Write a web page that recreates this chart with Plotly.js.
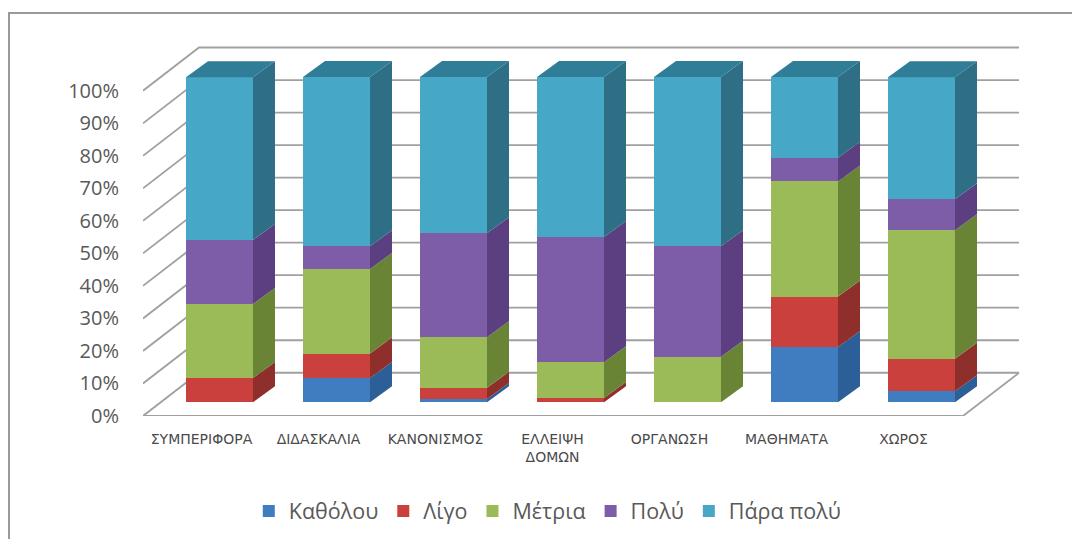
<!DOCTYPE html>
<html>
<head>
<meta charset="utf-8">
<script src="https://cdn.plot.ly/plotly-3.0.1.min.js"></script>
<style>html,body{margin:0;padding:0;background:#fff;}#chart{width:1072px;height:539px;}</style>
</head>
<body>
<div id="chart"></div>
<script>
// ---- data ----
const categories = ['ΣΥΜΠΕΡΙΦΟΡΑ','ΔΙΔΑΣΚΑΛΙΑ','ΚΑΝΟΝΙΣΜΟΣ','ΕΛΛΕΙΨΗ<br>ΔΟΜΩΝ','ΟΡΓΑΝΩΣΗ','ΜΑΘΗΜΑΤΑ','ΧΩΡΟΣ'];
const percentTicks = [0,10,20,30,40,50,60,70,80,90,100];
const percentLabels = ['0%','10%','20%','30%','40%','50%','60%','70%','80%','90%','100%'];
const seriesNames = ['Καθόλου','Λίγο','Μέτρια','Πολύ','Πάρα πολύ'];
const katholou  = [0,   7.5, 1,    0,    0,  17,   3.4];
const ligo      = [7.5, 7.5, 3.5,  1.3,  0,  15.5, 10];
const metria    = [22.7,26,  15.5, 11,   14, 35.4, 39.5];
const poly      = [19.7,7,   32,   38.5, 34, 7.3,  9.5];
const paraPoly  = [50,  52,  48,   49.2, 52, 24.8, 37.5];
const frontColors = ['#3F7DC0','#C9403C','#9BBB59','#7E5DA8','#46A8C6'];
const sideColors  = ['#2C5F97','#8F2F2C','#6A8436','#5B3F80','#2E6F86'];
const topColor = '#2F7D97';

// ---- geometry (axis units) ----
const series = [katholou, ligo, metria, poly, paraPoly];
const idx = categories.map((_, i) => i);
const barW = 67/117, barDX = 22/117, barDY = 16/3.25;
const wallDX = 56/117, wallDY = 43.2/3.25;
const wallL = -0.5, wallR = (963-201.5)/117;

const traces = [];

// walls and floor on the lower subplot (x, y)
const gridX = [], gridY = [];
percentTicks.forEach(t => {
  gridX.push(wallL, wallL+wallDX, wallR+wallDX, null);
  gridY.push(t, t+wallDY, t+wallDY, null);
});
gridX.push(wallL, wallR, wallR+wallDX, null);
gridY.push(0, 0, wallDY, null);
traces.push({type:'scatter', mode:'lines', x:gridX, y:gridY, xaxis:'x', yaxis:'y', showlegend:false,
  hoverinfo:'skip', connectgaps:false, line:{color:'#A0A0A0', width:1.8}});

// front faces: real stacked bars on the upper subplot
series.forEach((vals, s) => {
  traces.push({type:'bar', name:seriesNames[s], x:idx, y:vals, xaxis:'x2', yaxis:'y2', width:barW,
    marker:{color:frontColors[s], line:{width:0}}});
});

// side faces computed from the stacked values
const running = idx.map(() => 0);
series.forEach((vals, s) => {
  const px = [], py = [];
  vals.forEach((v, i) => {
    const b = running[i], t = b + v, r = i + barW/2;
    if (v > 0) {
      px.push(r, r+barDX, r+barDX, r, r, null);
      py.push(b, b+barDY, t+barDY, t, b, null);
    }
    running[i] = t;
  });
  traces.push({type:'scatter', mode:'lines', x:px, y:py, xaxis:'x2', yaxis:'y2', showlegend:false,
    hoverinfo:'skip', fill:'toself', fillcolor:sideColors[s], line:{width:0, color:sideColors[s]}});
});

// top faces
const tx = [], ty = [];
idx.forEach(i => {
  const l = i-barW/2, r = i+barW/2, t = running[i];
  tx.push(l, l+barDX, r+barDX, r, l, null);
  ty.push(t, t+barDY, t+barDY, t, t, null);
});
traces.push({type:'scatter', mode:'lines', x:tx, y:ty, xaxis:'x2', yaxis:'y2', showlegend:false,
  hoverinfo:'skip', fill:'toself', fillcolor:topColor, line:{width:0, color:topColor}});

const layout = {
  width:1072, height:539,
  margin:{l:143, r:50, t:40, b:123.3, pad:0},
  paper_bgcolor:'#fff', plot_bgcolor:'rgba(0,0,0,0)',
  barmode:'stack', showlegend:true,
  font:{family:'"Open Sans", sans-serif', color:'#595959'},
  xaxis:{type:'linear', range:[-0.5, 7.013], tickvals:idx, ticktext:categories, showgrid:false, zeroline:false,
    showline:false, ticks:'outside', ticklen:10, tickcolor:'rgba(0,0,0,0)',
    tickfont:{family:'"DejaVu Sans", sans-serif', size:14, color:'#4a4a4a'}, fixedrange:true},
  yaxis:{type:'linear', range:[0, 115.6], tickvals:percentTicks, ticktext:percentLabels, showgrid:false, zeroline:false,
    showline:false, ticks:'outside', ticklen:19, tickcolor:'rgba(0,0,0,0)',
    tickfont:{family:'"Open Sans", sans-serif', size:20, color:'#595959'}, fixedrange:true},
  xaxis2:{type:'linear', overlaying:'x', range:[-0.6538, 6.859], visible:false, anchor:'y2', fixedrange:true},
  yaxis2:{type:'linear', overlaying:'y', range:[-4.215, 111.385], visible:false, anchor:'x2', fixedrange:true},
  legend:{orientation:'h', xref:'container', yref:'container', x:0.511, y:0.052, xanchor:'center', yanchor:'middle',
    traceorder:'normal', font:{family:'"Open Sans", sans-serif', size:21.5, color:'#595959'}, itemwidth:30, bgcolor:'rgba(0,0,0,0)'},
  // outer chart frame (only its left and top edges fall inside the picture)
  shapes:[
    {type:'rect', xref:'paper', yref:'paper', x0:(9-143)/879, x1:(1100-143)/879,
     y0:(415.7-560)/375.7, y1:(415.7-13)/375.7, line:{color:'#999999', width:2}, fillcolor:'rgba(0,0,0,0)', layer:'below'}
  ]
};

Plotly.newPlot('chart', traces, layout, {displayModeBar:false, responsive:false});
</script>
</body>
</html>
